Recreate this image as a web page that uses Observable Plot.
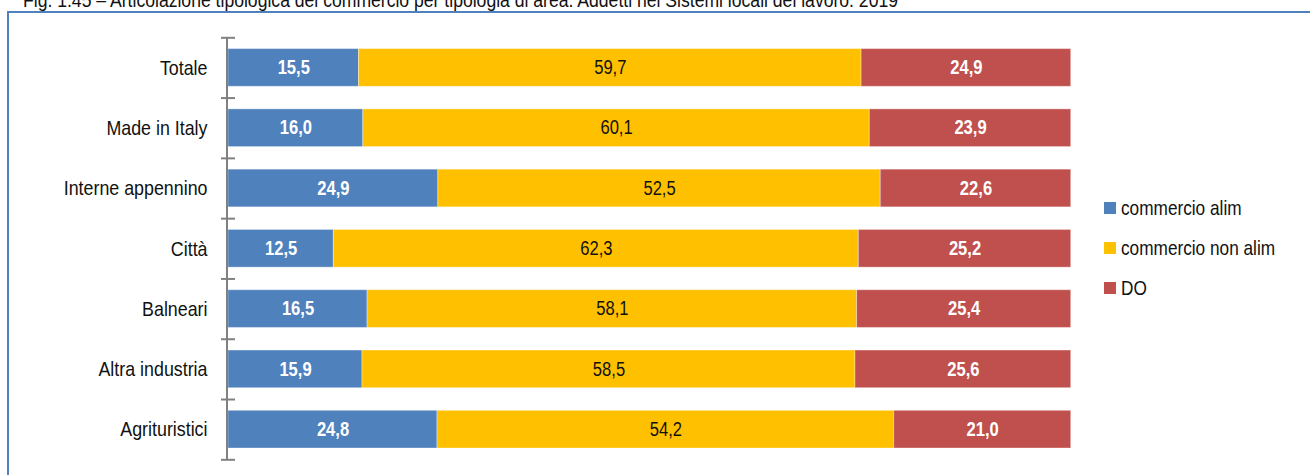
<!DOCTYPE html>
<html><head><meta charset="utf-8">
<script src="https://cdn.jsdelivr.net/npm/d3@7"></script>
<script src="https://cdn.jsdelivr.net/npm/@observablehq/plot@0.6"></script>
<style>
html,body{margin:0;padding:0;overflow:hidden;background:#fff;}
#wrap{position:relative;width:1310px;height:475px;overflow:hidden;font-family:"Liberation Sans",Arial,sans-serif;}
#frame{position:absolute;left:7px;top:11px;right:-10px;bottom:-10px;border-top:2px solid #4F81BD;border-left:2px solid #4F81BD;}
#title{position:absolute;left:23px;top:-10px;font-size:20px;line-height:20px;white-space:nowrap;color:#111;transform-origin:left center;}
#legend{position:absolute;left:1104px;top:187.5px;}
#legend .row{display:flex;align-items:center;height:40px;font-size:21px;color:#111;}
#legend .sw{width:12px;height:12px;margin-right:5px;flex:none;}
#legend .tx{display:inline-block;transform:scaleX(0.82);transform-origin:left center;white-space:nowrap;}
#chart{position:absolute;left:0;top:0;}
</style>
</head><body>
<div id="wrap">
  <div id="frame"></div>
  <div id="title">Fig. 1.45 – Articolazione tipologica del commercio per tipologia di area. Addetti nei Sistemi locali del lavoro. 2019</div>
  <div id="chart"></div>
  <div id="legend"></div>
</div>
<script>
const categories = ["Totale","Made in Italy","Interne appennino","Città","Balneari","Altra industria","Agrituristici"];
const series = ["commercio alim","commercio non alim","DO"];
const alim    = [15.5,16.0,24.9,12.5,16.5,15.9,24.8];
const nonAlim = [59.7,60.1,52.5,62.3,58.1,58.5,54.2];
const dO      = [24.9,23.9,22.6,25.2,25.4,25.6,21.0];
const colors  = ["#4F81BD","#FFC000","#C0504D"];

const seriesValues = [alim, nonAlim, dO];
const rows = [];
categories.forEach((cat, i) => {
  const vals = seriesValues.map(s => s[i]);
  const total = d3.sum(vals);
  let cum = 0;
  vals.forEach((v, k) => {
    rows.push({cat, i, series: series[k], value: v, x1: cum / total, x2: (cum + v) / total});
    cum += v;
  });
});
const fmt = v => d3.format(".1f")(v).replace(".", ",");
const bounds = d3.range(0, categories.length + 1);
const font = '"Liberation Sans",Arial,sans-serif';

const chart = Plot.plot({
  width: 1310,
  height: 475,
  marginLeft: 228,
  marginRight: 239.3,
  marginTop: 37.3,
  marginBottom: 15.7,
  style: {fontFamily: font, background: "transparent", overflow: "visible"},
  x: {domain: [0, 1], axis: null},
  y: {domain: [0, categories.length], reverse: true},
  color: {domain: series, range: colors},
  marks: [
    Plot.rectX(rows, {x1: "x1", x2: "x2", y1: d => d.i, y2: d => d.i + 1, fill: "series",
      insetTop: 11.3, insetBottom: 11.3, stroke: "#fff", strokeOpacity: 0.35, strokeWidth: 1}),
    Plot.text(rows.filter(d => d.series !== "commercio non alim"), {
      x: d => (d.x1 + d.x2) / 2, y: d => d.i + 0.5, text: d => fmt(d.value),
      fill: "#fff", fontWeight: "bold", fontSize: 19.5}),
    Plot.text(rows.filter(d => d.series === "commercio non alim"), {
      x: d => (d.x1 + d.x2) / 2, y: d => d.i + 0.5, text: d => fmt(d.value),
      fill: "#111", fontSize: 19.5}),
    Plot.text(categories, {x: 0, y: (d, i) => i + 0.5, text: d => d, textAnchor: "end",
      dx: -21, fontSize: 21, fill: "#111"}),
    Plot.ruleX([0], {stroke: "#808080", strokeWidth: 2, dx: -1.5}),
    Plot.axisY({ticks: bounds, tickSize: 14, dx: 7, tickFormat: () => "", stroke: "#808080", strokeWidth: 2})
  ]
});
document.getElementById("chart").appendChild(chart);

// condense the Arial-metric font horizontally (Arial Narrow look), scaling about each text's anchor point
d3.select(chart).selectAll("text").each(function() {
  const tr = this.getAttribute("transform");
  if (tr) {
    this.setAttribute("transform", tr + " scale(0.85,1)");
  } else {
    const x = +(this.getAttribute("x") || 0), y = +(this.getAttribute("y") || 0);
    this.removeAttribute("x"); this.removeAttribute("y");
    this.setAttribute("transform", `translate(${x},${y}) scale(0.85,1)`);
  }
});

const legend = document.getElementById("legend");
series.forEach((s, k) => {
  const row = document.createElement("div");
  row.className = "row";
  const sw = document.createElement("div");
  sw.className = "sw";
  sw.style.background = colors[k];
  const t = document.createElement("span");
  t.className = "tx";
  t.textContent = s;
  row.appendChild(sw); row.appendChild(t);
  legend.appendChild(row);
});

const title = document.getElementById("title");
title.style.transform = `scaleX(${875 / title.offsetWidth})`;
</script>
</body></html>
